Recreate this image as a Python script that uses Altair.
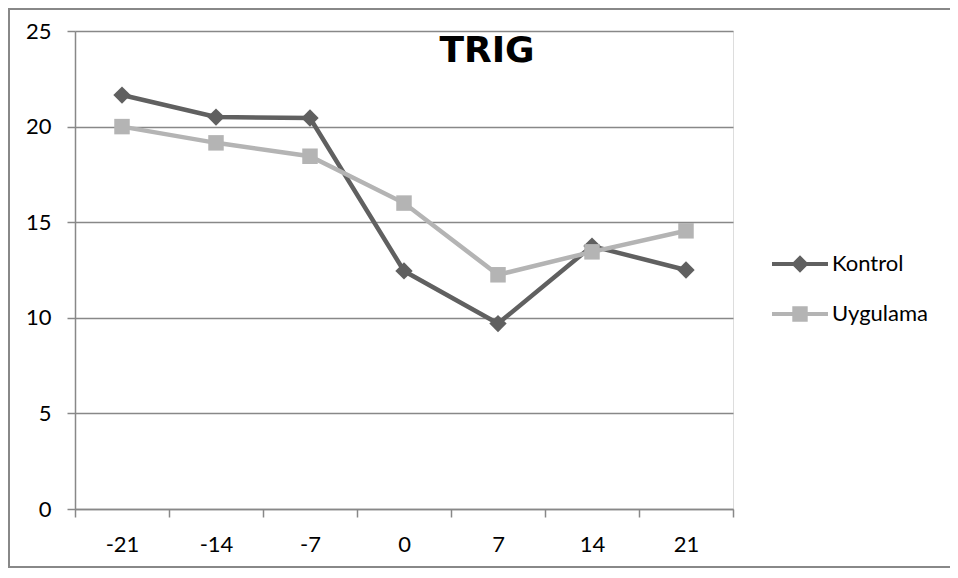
import altair as alt
import pandas as pd

days = [-21, -14, -7, 0, 7, 14, 21]
series_names = ["Kontrol", "Uygulama"]
kontrol = [21.65, 20.5, 20.45, 12.45, 9.7, 13.75, 12.5]
uygulama = [20.0, 19.15, 18.45, 16.0, 12.25, 13.45, 14.55]
y_ticks = [0, 5, 10, 15, 20, 25]
title_text = "TRIG"

colors = ["#606060", "#b4b4b4"]
marker_shapes = ["diamond", "square"]
marker_sizes = [300, 240]
FONT = "Lato"
GRID = "#888888"

rows = []
for name, vals in zip(series_names, [kontrol, uygulama]):
    for d, v in zip(days, vals):
        rows.append({"day": d, "value": v, "series": name})
df = pd.DataFrame(rows)

W, H = 658, 478
half = (days[1] - days[0]) / 2
edges = [d - half for d in days] + [days[-1] + half]

x_enc = alt.X(
    "day:Q",
    scale=alt.Scale(domain=[days[0] - half, days[-1] + half], nice=False, zero=False),
    axis=alt.Axis(
        values=edges,
        labelExpr=f"datum.value > {days[-1]} ? '' : '' + (datum.value + {half})",
        labelOffset=W / (2 * len(days)),
        labelFont=FONT, labelFontSize=22, labelColor="black",
        labelPadding=17, labelOverlap=False, labelFlush=False,
        tickSize=8, tickColor=GRID, tickWidth=1.5,
        domainColor=GRID, domainWidth=1.5,
        grid=False, title=None,
    ),
)
y_enc = alt.Y(
    "value:Q",
    scale=alt.Scale(domain=[0, 25], nice=False),
    axis=alt.Axis(
        values=y_ticks,
        labelFont=FONT, labelFontSize=22, labelColor="black",
        labelPadding=16,
        tickSize=8, tickColor=GRID, tickWidth=1.5,
        domainColor=GRID, domainWidth=1.5,
        grid=True, gridColor=GRID, gridWidth=1.5,
        title=None,
    ),
)

# legend symbols: line segment + marker (custom paths)
kon_path = "M-2,-0.143L2,-0.143L2,0.143L-2,0.143Z M0,-0.62L0.62,0L0,0.62L-0.62,0Z"
uyg_path = "M-2,-0.143L2,-0.143L2,0.143L-2,0.143Z M-0.55,-0.55L0.55,-0.55L0.55,0.55L-0.55,0.55Z"

legend = alt.Legend(
    title=None,
    orient="none",
    legendX=711,
    legendY=219,
    padding=0,
    symbolSize=784,
    symbolStrokeWidth=0,
    symbolOpacity=1,
    labelFont=FONT, labelFontSize=22, labelColor="black",
    labelOffset=18,
    rowPadding=25,
)

layers = []
for name, col in zip(series_names, colors):
    layers.append(
        alt.Chart(df).transform_filter(alt.datum.series == name)
        .mark_line(strokeWidth=4.5, color=col)
        .encode(x=x_enc, y=y_enc)
    )
for name, col, shp, sz in zip(series_names, colors, marker_shapes, marker_sizes):
    layers.append(
        alt.Chart(df).transform_filter(alt.datum.series == name)
        .mark_point(filled=True, opacity=1, shape=shp, size=sz, color=col)
        .encode(x=x_enc, y=y_enc)
    )

legend_layer = alt.Chart(df).transform_filter("false").mark_point(filled=True, opacity=1).encode(
    x=x_enc, y=y_enc,
    color=alt.Color("series:N", scale=alt.Scale(domain=series_names, range=colors), legend=legend),
    shape=alt.Shape("series:N", scale=alt.Scale(domain=series_names, range=[kon_path, uyg_path]), legend=legend),
)

border = alt.Chart(alt.Data(values=[{}])).mark_rect(
    fill=None, stroke=GRID, strokeWidth=2
).encode(
    x=alt.value(-66), x2=alt.value(900), y=alt.value(-22), y2=alt.value(536)
)

title_layer = alt.Chart(alt.Data(values=[{"t": title_text}])).mark_text(
    font="DejaVu Sans", fontSize=36, fontWeight="bold", color="black",
    align="center", baseline="alphabetic",
).encode(text="t:N", x=alt.value(412), y=alt.value(31))

chart = alt.layer(border, *layers, legend_layer, title_layer).properties(
    width=W, height=H,
    padding={"left": 67, "top": 23, "right": 217, "bottom": 59},
    autosize=alt.AutoSizeParams(type="none"),
).configure_view(stroke=None).configure(background="white")

chart.save("out.html", embed_options={"renderer": "svg", "actions": False})
